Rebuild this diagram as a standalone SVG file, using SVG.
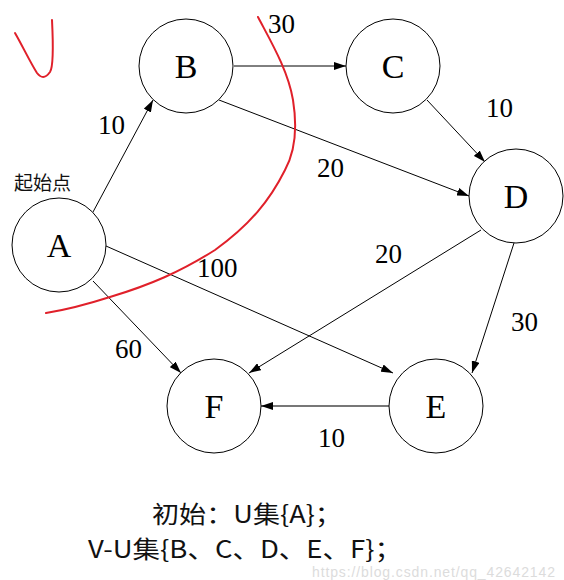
<svg xmlns="http://www.w3.org/2000/svg" width="564" height="580" viewBox="0 0 564 580">
<style>
.node circle{fill:#fff;stroke:#000;stroke-width:1}
.node text{font-family:"Liberation Serif",serif;font-size:34px;text-anchor:middle;fill:#000}
.edge{stroke:#000;stroke-width:1;fill:none;marker-end:url(#ah)}
.lbl{font-family:"Liberation Serif",serif;font-size:27px;fill:#000}
.red{stroke:#e0202a;stroke-width:2;fill:none;stroke-linecap:round;stroke-linejoin:round}
.cn{font-family:"Noto Sans CJK SC",sans-serif;fill:#111}
</style>
<defs>
<marker id="ah" markerWidth="12" markerHeight="8" refX="12" refY="4" orient="auto" markerUnits="userSpaceOnUse">
<path d="M0,0 L12,4 L0,8 z" fill="#000"/>
</marker>
</defs>
<rect width="564" height="580" fill="#fff"/>
<g id="connectors">
<line class="edge" x1="93" y1="212" x2="153" y2="100"/>
<line class="edge" x1="234" y1="66" x2="346" y2="66"/>
<line class="edge" x1="219" y1="100" x2="469" y2="196"/>
<line class="edge" x1="427" y1="100" x2="485" y2="162"/>
<line class="edge" x1="106" y1="246" x2="393" y2="373"/>
<line class="edge" x1="93" y1="281" x2="181" y2="373"/>
<line class="edge" x1="481" y1="230" x2="249" y2="373"/>
<line class="edge" x1="514" y1="243" x2="472" y2="373"/>
<line class="edge" x1="389" y1="406" x2="261" y2="406" style="stroke:#777;stroke-width:2"/>
</g>
<g id="labels">
<text class="lbl" x="98" y="134">10</text>
<text class="lbl" x="268" y="33">30</text>
<text class="lbl" x="486" y="117">10</text>
<text class="lbl" x="317" y="177">20</text>
<text class="lbl" x="375" y="263">20</text>
<text class="lbl" x="197" y="277">100</text>
<text class="lbl" x="511" y="331">30</text>
<text class="lbl" x="115" y="358">60</text>
<text class="lbl" x="318" y="447">10</text>
<text class="cn" x="14" y="190" font-size="19">起始点</text>
</g>
<g id="A" class="node"><circle cx="59" cy="245" r="47"/><text x="59" y="257">A</text></g>
<g id="B" class="node"><circle cx="186" cy="66" r="47"/><text x="186" y="78">B</text></g>
<g id="C" class="node"><circle cx="393" cy="66" r="47"/><text x="393" y="78">C</text></g>
<g id="D" class="node"><circle cx="516" cy="196" r="47"/><text x="516" y="208">D</text></g>
<g id="F" class="node"><circle cx="214" cy="406" r="47"/><text x="214" y="418">F</text></g>
<g id="E" class="node"><circle cx="436" cy="406" r="47"/><text x="436" y="418">E</text></g>
<g id="annotations">
<path class="red" d="M15,33 C22,45 30,62 37,73 C41,78 45,79 50,72 C54,66 53,40 52,20"/>
<path class="red" d="M258,17 C270,40 288,70 293,100 C297,125 296,150 285,170 C270,200 250,225 215,250 C180,272 150,285 110,297 C85,305 65,310 46,313"/>
<text class="cn" x="152" y="523" font-size="24" textLength="190" lengthAdjust="spacingAndGlyphs">初始：U集{A}；</text>
<text class="cn" x="88" y="558" font-size="24" textLength="314" lengthAdjust="spacingAndGlyphs">V-U集{B、C、D、E、F}；</text>
<text x="312" y="577" font-family="Liberation Sans,sans-serif" font-size="14" fill="#dcdcdc" textLength="243">https://blog.csdn.net/qq_42642142</text>
</g>
</svg>
